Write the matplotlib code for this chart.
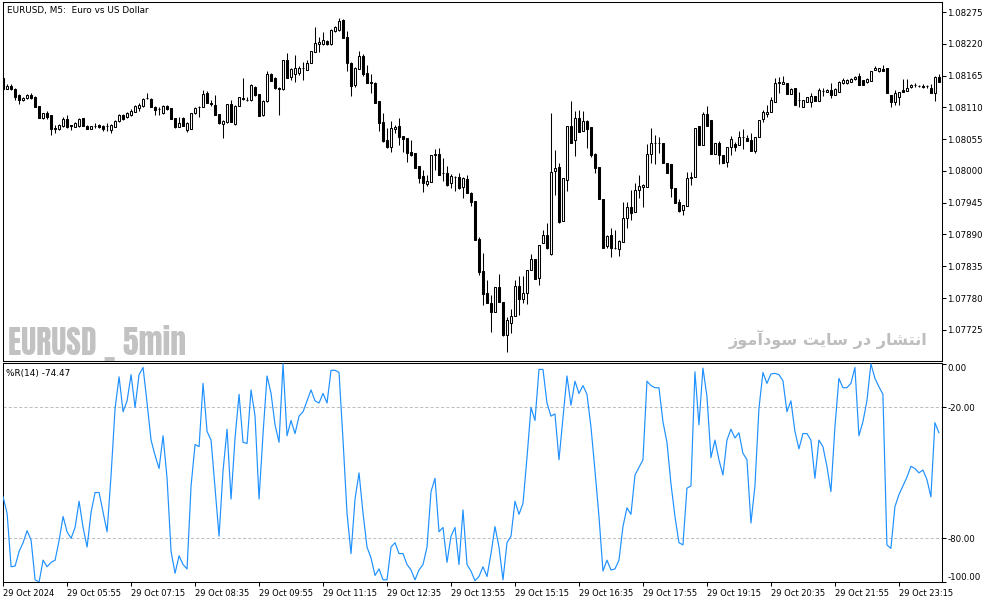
import numpy as np
import matplotlib
matplotlib.use("Agg")
import matplotlib.pyplot as plt
from matplotlib import font_manager as fm
import matplotlib.patheffects as pe

# ---------------- data ----------------
# prices are given in points (0.00001) relative to 1.08000
BASE = 1.08000
POINT = 0.00001

open_pts = [
    161, 142, 147, 142, 132, 123, 126, 132, 128, 113,
    92, 100, 97, 74, 73, 78, 90, 80, 76, 78,
    92, 78, 73, 78, 80, 78, 78, 71, 76, 87,
    97, 94, 97, 102, 109, 113, 126, 125, 111, 107,
    100, 113, 109, 92, 76, 92, 71, 73, 100, 111,
    111, 135, 118, 114, 99, 81, 85, 116, 81, 113,
    126, 123, 123, 145, 133, 97, 121, 168, 161, 144,
    142, 192, 163, 168, 170, 178, 175, 187, 206, 220,
    220, 225, 220, 242, 244, 262, 232, 187, 149, 177,
    199, 170, 154, 152, 121, 85, 54, 42, 73, 78,
    61, 57, 33, 31, 9, -9, -23, -19, 28, 29,
    -3, -3, -21, -10, -10, -28, -14, -38, -52, -118,
    -173, -211, -229, -244, -201, -227, -284, -263, -251, -199,
    -222, -211, -171, -152, -185, -125, -111, -144, 0, 7,
    -87, -16, 78, 54, 92, 69, 87, 76, 29, 7,
    -48, -130, -111, -133, -135, -123, -81, -62, -71, -33,
    -28, -28, 29, 49, 49, 49, 14, 12, -29, -54,
    -68, -61, -12, -10, 78, 45, 99, 88, 29, 49,
    28, 16, 42, 47, 45, 59, 57, 54, 35, 59,
    90, 99, 102, 120, 152, 151, 152, 133, 144, 123,
    111, 120, 120, 130, 121, 139, 137, 140, 132, 137,
    152, 152, 154, 159, 165, 158, 154, 156, 175, 173,
    177, 178, 132, 120, 128, 140, 139, 145, 149, 147,
    147, 147, 144, 135, 163,
]
high_pts = [
    163, 151, 151, 144, 133, 128, 133, 135, 130, 113,
    100, 104, 97, 80, 81, 94, 97, 80, 85, 92,
    92, 80, 78, 83, 81, 80, 83, 81, 88, 99,
    99, 102, 107, 114, 118, 126, 135, 126, 113, 111,
    114, 114, 109, 92, 94, 94, 85, 100, 111, 113,
    140, 139, 123, 132, 99, 88, 116, 123, 114, 128,
    161, 128, 151, 147, 133, 123, 173, 170, 163, 145,
    192, 204, 178, 201, 182, 189, 192, 208, 249, 232,
    241, 227, 246, 251, 265, 263, 242, 189, 180, 208,
    203, 184, 168, 154, 121, 100, 74, 87, 80, 92,
    61, 57, 54, 31, 9, 2, -7, 28, 38, 40,
    23, 9, -5, -9, -3, -10, -7, -36, -52, -114,
    -142, -189, -215, -201, -178, -227, -253, -239, -189, -182,
    -182, -171, -144, -152, -128, -102, -90, 100, 36, 14,
    -12, 78, 121, 104, 106, 104, 88, 76, 31, 7,
    -48, -111, -99, -102, -119, -54, -54, -33, -21, -7,
    -23, 47, 74, 62, 59, 49, 14, 12, -29, -48,
    -59, -2, -2, 74, 78, 102, 113, 88, 49, 52,
    28, 42, 61, 50, 69, 73, 62, 66, 59, 88,
    106, 114, 128, 161, 163, 165, 152, 144, 144, 137,
    123, 128, 135, 130, 144, 144, 142, 152, 144, 156,
    161, 159, 161, 165, 170, 158, 161, 173, 182, 178,
    184, 178, 132, 140, 137, 159, 159, 151, 152, 149,
    151, 149, 151, 165, 168,
]
low_pts = [
    140, 142, 140, 123, 116, 121, 125, 125, 111, 92,
    90, 90, 62, 66, 71, 76, 74, 71, 76, 76,
    78, 73, 73, 74, 74, 69, 69, 66, 76, 85,
    88, 92, 95, 102, 104, 111, 125, 111, 97, 97,
    99, 106, 90, 74, 76, 78, 68, 73, 99, 94,
    111, 118, 113, 97, 81, 57, 83, 85, 80, 113,
    123, 121, 121, 130, 95, 95, 120, 156, 142, 97,
    140, 161, 158, 154, 166, 158, 175, 187, 206, 206,
    218, 218, 218, 241, 242, 230, 173, 130, 145, 177,
    165, 152, 135, 118, 69, 50, 40, 33, 66, 45,
    33, 16, 26, 5, -21, -36, -26, -19, 2, -7,
    -17, -26, -29, -35, -31, -47, -38, -61, -119, -180,
    -232, -229, -279, -244, -227, -286, -314, -281, -251, -249,
    -229, -230, -171, -187, -197, -125, -135, -145, -42, -90,
    -87, -35, 49, 26, 68, 69, 40, 24, -3, -48,
    -133, -133, -149, -135, -147, -123, -99, -85, -71, -47,
    -62, -28, 14, 12, 31, 14, -3, -45, -55, -71,
    -76, -61, -24, -10, 45, 45, 78, 29, 29, 12,
    14, 7, 28, 35, 45, 38, 52, 35, 31, 59,
    85, 94, 102, 120, 135, 151, 133, 133, 114, 111,
    111, 120, 111, 121, 121, 130, 137, 126, 132, 137,
    151, 151, 154, 158, 149, 149, 152, 156, 175, 171,
    173, 135, 111, 114, 114, 137, 139, 144, 145, 145,
    144, 144, 135, 121, 154,
]
close_pts = [
    142, 147, 142, 128, 123, 126, 132, 126, 111, 92,
    100, 94, 73, 73, 80, 90, 76, 78, 83, 90,
    78, 73, 78, 78, 76, 73, 78, 80, 87, 97,
    90, 100, 104, 113, 114, 125, 126, 111, 106, 107,
    113, 107, 90, 76, 83, 78, 83, 100, 109, 111,
    133, 118, 116, 97, 83, 87, 116, 85, 113, 128,
    125, 123, 149, 132, 95, 121, 168, 156, 144, 142,
    192, 161, 177, 178, 178, 178, 187, 208, 222, 223,
    227, 220, 244, 249, 260, 230, 187, 147, 178, 199,
    168, 152, 152, 118, 83, 52, 42, 74, 76, 59,
    55, 31, 28, 5, -12, -21, -17, 28, 29, -7,
    -3, -24, -9, -10, -29, -12, -38, -54, -119, -175,
    -213, -229, -244, -201, -227, -284, -258, -251, -199, -222,
    -211, -171, -152, -187, -128, -111, -133, -2, 5, -88,
    -12, 78, 49, 92, 68, 87, 73, 28, 5, -48,
    -133, -113, -133, -133, -121, -81, -62, -73, -33, -26,
    -24, 29, 49, 49, 49, 14, -3, -29, -55, -69,
    -59, -12, -10, 74, 45, 99, 78, 29, 49, 28,
    14, 42, 55, 42, 59, 59, 52, 35, 59, 88,
    102, 102, 123, 152, 154, 154, 133, 142, 114, 123,
    123, 128, 130, 121, 140, 139, 140, 132, 142, 154,
    158, 158, 159, 163, 149, 149, 159, 173, 178, 178,
    173, 135, 120, 135, 137, 137, 144, 149, 149, 147,
    145, 147, 135, 163, 154,
]

# Williams %R(14) values
wpr = [
    -61, -68.6, -93, -92.7, -86, -82, -76.5, -80.8, -99, -100,
    -90, -93, -91, -90, -81, -70, -77, -80, -75, -63,
    -75, -84, -68, -59, -59, -68, -77, -51, -20.5, -6,
    -22, -17, -5, -20, -5, -1.7, -18, -35, -42, -48,
    -33, -52.5, -86, -96, -88, -92, -94, -56, -37, -38,
    -9, -31, -35, -57, -79, -49, -30, -62, -34, -14,
    -36, -36.5, -12, -24, -62, -32, -5.6, -13.6, -28, -36,
    0, -33, -26, -32, -24, -22, -17, -12, -17, -18,
    -13.6, -18, -3, -3, -4, -35, -68.5, -87, -62, -50,
    -68.5, -84, -89, -97, -94, -99, -99, -84, -82, -87,
    -87, -92, -94.5, -99, -94.5, -92, -84, -58.6, -52.5, -77,
    -75, -91, -79, -75, -92, -67, -92, -95, -99.4, -97.5,
    -93, -97.5, -87, -74.6, -84, -99, -82, -79, -63, -69,
    -64, -43, -20, -26, -2.6, -2.6, -18, -24, -23, -44,
    -25, -5.6, -19, -8, -13.6, -10, -14, -29, -49, -70,
    -95, -90, -94.5, -94, -90, -74.6, -66, -69, -51, -47.5,
    -44, -8, -10, -11, -11, -26.6, -36, -55, -70, -82,
    -83, -57, -56, -3.7, -28, -2, -15, -43, -35, -44,
    -51, -35, -30, -34, -31.6, -41, -44, -73, -56, -20.5,
    -4, -9, -4.7, -4.4, -5, -7.8, -22, -17, -31, -39,
    -32, -32, -35, -52.5, -35, -38, -47, -58.6, -29, -6.7,
    -11, -11, -9, -1.7, -33, -26.6, -17, 0, -6.7, -10.5,
    -14, -83, -84.6, -65.5, -60, -56, -52, -47, -48, -50,
    -48.7, -53, -61, -27, -31.6,
]

price_ticks = [1.07725, 1.07780, 1.07835, 1.07890, 1.07945, 1.08000,
               1.08055, 1.08110, 1.08165, 1.08220, 1.08275]
wpr_ticks = [0.0, -20.0, -80.0, -100.0]
wpr_levels = [-20.0, -80.0]
time_tick_bars = [0, 16, 32, 48, 64, 80, 96, 112, 128, 144, 160, 176, 192, 208, 224]
time_tick_labels = ["29 Oct 2024", "29 Oct 05:55", "29 Oct 07:15", "29 Oct 08:35",
                    "29 Oct 09:55", "29 Oct 11:15", "29 Oct 12:35", "29 Oct 13:55",
                    "29 Oct 15:15", "29 Oct 16:35", "29 Oct 17:55", "29 Oct 19:15",
                    "29 Oct 20:35", "29 Oct 21:55", "29 Oct 23:15"]

title_text = "EURUSD, M5:  Euro vs US Dollar"
ind_text = "%R(14) -74.47"
wm_left = "EURUSD _ 5min"
wm_right = "انتشار در سایت سودآموز"

# ---------------- prepare ----------------
o = BASE + np.array(open_pts) * POINT
h = BASE + np.array(high_pts) * POINT
l = BASE + np.array(low_pts) * POINT
c = BASE + np.array(close_pts) * POINT
x = np.arange(len(o))


def shape_persian_visual(s):
    # Arabic presentation forms (contextual shaping), visual LTR order
    forms = {
        "ا": ("\uFE8D", "\uFE8E", None, None),
        "آ": ("\uFE81", "\uFE82", None, None),
        "ن": ("\uFEE5", "\uFEE6", "\uFEE7", "\uFEE8"),
        "ت": ("\uFE95", "\uFE96", "\uFE97", "\uFE98"),
        "ش": ("\uFEB5", "\uFEB6", "\uFEB7", "\uFEB8"),
        "ر": ("\uFEAD", "\uFEAE", None, None),
        "د": ("\uFEA9", "\uFEAA", None, None),
        "س": ("\uFEB1", "\uFEB2", "\uFEB3", "\uFEB4"),
        "ی": ("\uFBFC", "\uFBFD", "\uFBFE", "\uFBFF"),
        "و": ("\uFEED", "\uFEEE", None, None),
        "م": ("\uFEE1", "\uFEE2", "\uFEE3", "\uFEE4"),
        "ز": ("\uFEAF", "\uFEB0", None, None),
    }
    out = []
    chars = list(s)
    for i, ch in enumerate(chars):
        if ch not in forms:
            out.append(ch)
            continue
        prev = chars[i - 1] if i > 0 else None
        nxt = chars[i + 1] if i + 1 < len(chars) else None
        joins_prev = prev in forms and forms[prev][2] is not None
        joins_next = nxt in forms and forms[ch][2] is not None
        iso, fin, ini, med = forms[ch]
        if joins_prev and joins_next:
            out.append(med)
        elif joins_prev:
            out.append(fin)
        elif joins_next:
            out.append(ini)
        else:
            out.append(iso)
    return "".join(out[::-1])


def has_family(name):
    try:
        fm.findfont(fm.FontProperties(family=name), fallback_to_default=False)
        return True
    except Exception:
        return False


W, H = 994, 603
fig = plt.figure(figsize=(W / 100, H / 100), dpi=100)
fig.patch.set_facecolor("white")


def rect(x0, y0, x1, y1):
    return [x0 / W, 1 - y1 / H, (x1 - x0) / W, (y1 - y0) / H]


ax1 = fig.add_axes(rect(2.7, 1.7, 941.7, 360.7))
ax2 = fig.add_axes(rect(2.7, 363.3, 941.7, 582.0))

LW = 0.75
FS = 6.4
FSX = 6.0
FSY = 6.2

# ---- candlesticks ----
bull = c >= o
ax1.vlines(x, l, h, color="black", linewidth=LW, zorder=2)
body_bottom = np.minimum(o, c)
body_height = np.abs(c - o)
ax1.bar(x[bull], body_height[bull], bottom=body_bottom[bull], width=0.52,
        facecolor="white", edgecolor="black", linewidth=LW, zorder=3)
ax1.bar(x[~bull], body_height[~bull], bottom=body_bottom[~bull], width=0.52,
        facecolor="black", edgecolor="black", linewidth=LW, zorder=3)

ax1.set_xlim(-0.1, 234.7)
ax1.set_ylim(1.076715, 1.08293)
ax1.set_xticks([])
ax1.yaxis.tick_right()
ax1.set_yticks(price_ticks)
ax1.set_yticklabels([f"{v:.5f}" for v in price_ticks])
ax1.tick_params(axis="y", direction="out", length=3, width=LW, pad=1,
                labelsize=FSY, colors="black")

# ---- %R ----
ax2.plot(x, wpr, color="#1E90FF", linewidth=0.85, zorder=3)
for lv in wpr_levels:
    ax2.axhline(lv, color="#C0C0C0", linewidth=0.75, linestyle=(0, (3, 2)), zorder=1)
ax2.set_xlim(-0.1, 234.7)
ax2.set_ylim(-100.0, 0.2)
ax2.yaxis.tick_right()
ax2.set_yticks(wpr_ticks)
ax2.set_yticklabels([f"{v:.2f}" for v in wpr_ticks])
ax2.tick_params(axis="y", direction="out", length=3, width=LW, pad=1,
                labelsize=FSY, colors="black")
for lbl, v in zip(ax2.get_yticklabels(), wpr_ticks):
    if v == 0.0:
        lbl.set_va("top")
    elif v == -100.0:
        lbl.set_va("bottom")
ax2.set_xticks(time_tick_bars)
ax2.set_xticklabels(time_tick_labels)
ax2.tick_params(axis="x", direction="out", length=3, width=LW, pad=2,
                labelsize=FSX, colors="black")
for lbl in ax2.get_xticklabels():
    lbl.set_ha("left")

for ax in (ax1, ax2):
    for sp in ax.spines.values():
        sp.set_linewidth(LW)
        sp.set_color("black")
    ax.set_facecolor("white")

# ---- texts ----
fig.text(7 / W, 1 - 10 / H, title_text, fontsize=FS, ha="left", va="center",
         color="black")
fig.text(6 / W, 1 - 373.5 / H, ind_text, fontsize=FS, ha="left", va="center",
         color="black")

WM_GRAY = "#C2C2C2"
if has_family("Anton"):
    wm_family, wm_stroke = ["Anton", "DejaVu Sans"], 0.0
elif has_family("Oswald"):
    wm_family, wm_stroke = ["Oswald", "DejaVu Sans"], 1.6
else:
    wm_family, wm_stroke = ["Open Sans Condensed", "DejaVu Sans"], 0.6

t_left = fig.text(8 / W, 1 - 355 / H, wm_left, fontsize=21, ha="left",
                  va="baseline", color=WM_GRAY, family=wm_family,
                  fontweight="bold")
t_right = fig.text(927 / W, 1 - 339.5 / H, shape_persian_visual(wm_right),
                   fontsize=12, ha="right", va="center", color="#BEBEBE",
                   family=["DejaVu Sans"], fontweight="bold")

# fit watermark widths to the reference layout (177 px and 199 px wide)
fig.canvas.draw()
r = fig.canvas.get_renderer()
bb = t_left.get_window_extent(r)
t_left.set_fontsize(21 * 177.0 / bb.width)
bb = t_right.get_window_extent(r)
t_right.set_fontsize(12 * 199.0 / bb.width)
if wm_stroke > 0:
    t_left.set_path_effects([pe.withStroke(linewidth=wm_stroke, foreground=WM_GRAY)])

fig.savefig("out.png", dpi=100)
